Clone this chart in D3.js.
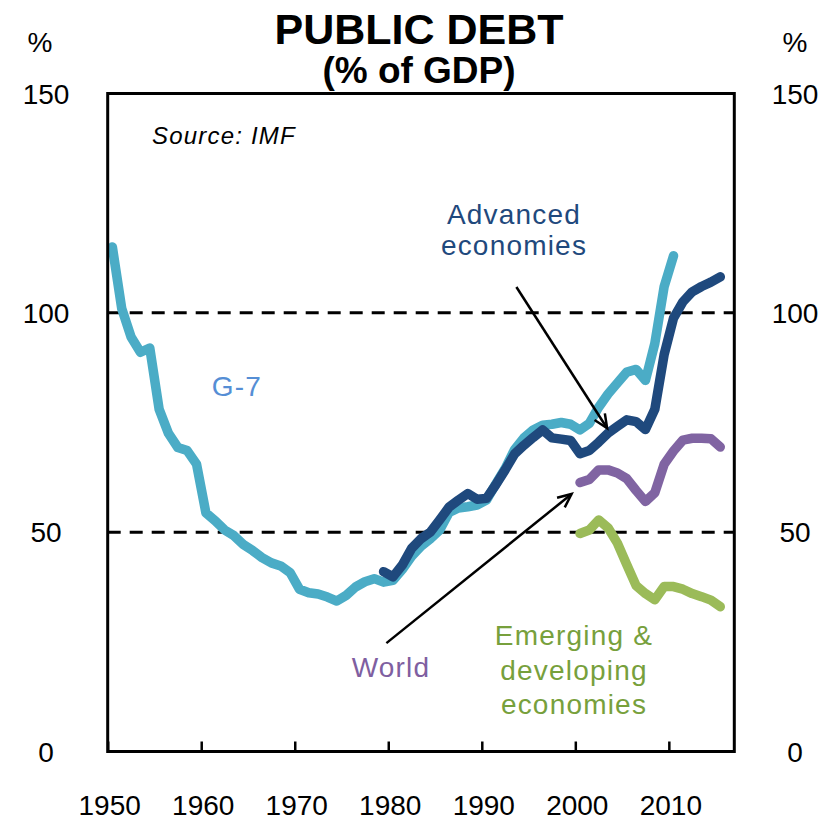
<!DOCTYPE html>
<html>
<head>
<meta charset="utf-8">
<script src="https://cdn.jsdelivr.net/npm/d3@7"></script>
<style>
  html, body { margin: 0; padding: 0; background: #fff; }
  svg { display: block; }
  text { font-family: "Liberation Sans", Arial, sans-serif; }
</style>
</head>
<body>
<div id="chart"></div>
<script>
// ---------------- DATA ----------------
const g7Years = d3.range(1950, 2011);
const g7Values = [
  115, 101, 94.5, 91, 92, 78, 72.5, 69.3, 68.6, 65.5,
  54.4, 52.6, 50.5, 49.2, 47.2, 45.8, 44.2, 43, 42.3, 40.8,
  37, 36.2, 35.9, 35.2, 34.3, 35.6, 37.5, 38.7, 39.4, 38.6,
  39, 41.5, 44.5, 46.8, 48.5, 50.5, 54.5, 55.5, 55.8, 56.2,
  57.3, 61, 64.5, 68.8, 71.5, 73.3, 74.4, 74.6, 75, 74.6,
  73.3, 74.8, 78.5, 81.5, 84, 86.5, 87.1, 84.6, 93, 106,
  113
];
const advYears = d3.range(1979, 2016);
const advValues = [
  41, 39.8, 42.5, 46.3, 48.5, 50, 52.8, 55.7, 57.3, 58.8,
  57.5, 57.7, 60.8, 64.2, 67.8, 69.8, 71.6, 73.3, 71.5, 71.2,
  70.9, 67.9, 68.6, 70.5, 72.6, 74.1, 75.6, 75.2, 73.4, 78,
  90.5, 98.8, 102.5, 104.8, 106, 107, 108.2
];
const worldYears = d3.range(2000, 2016);
const worldValues = [
  61.3, 62, 64.2, 64.2, 63.5, 62.2, 59.5, 57, 59, 65.5,
  68.5, 71, 71.4, 71.4, 71.3, 69.4
];
const emYears = d3.range(2000, 2016);
const emValues = [
  49.7, 50.5, 52.8, 51, 47.5, 42.6, 37.8, 36, 34.6, 37.6,
  37.6, 37, 36, 35.3, 34.5, 33
];
const yTicks = [0, 50, 100, 150];
const xTicks = [1950, 1960, 1970, 1980, 1990, 2000, 2010];
const gridValues = [50, 100];

// ---------------- LAYOUT ----------------
const W = 837, H = 820;
const pLeft = 107.7, pRight = 734.3, pTop = 93.5, pBottom = 751.5;

const x = d3.scaleLinear().domain([1950, 2017]).range([pLeft, pRight]);
const y = d3.scaleLinear().domain([0, 150]).range([pBottom, pTop]);
const xp = yr => x(yr + 0.5); // annual points centred in each year

const svg = d3.select('#chart').append('svg')
  .attr('width', W).attr('height', H);

// Titles
svg.append('text').attr('x', 419).attr('y', 44)
  .attr('text-anchor', 'middle').attr('font-size', 43).attr('font-weight', 'bold')
  .text('PUBLIC DEBT');
svg.append('text').attr('x', 419).attr('y', 83)
  .attr('text-anchor', 'middle').attr('font-size', 37).attr('font-weight', 'bold')
  .text('(% of GDP)');

// Unit labels
[40, 795].forEach(cx => {
  svg.append('text').attr('x', cx).attr('y', 52)
    .attr('text-anchor', 'middle').attr('font-size', 28).text('%');
});

// Y tick labels both sides
const yl = svg.append('g');
yTicks.forEach(v => {
  [46, 795].forEach(cx => {
    yl.append('text').attr('x', cx).attr('y', y(v) + 10)
      .attr('text-anchor', 'middle').attr('font-size', 28).text(v);
  });
});

// Dashed gridlines
gridValues.forEach(v => {
  svg.append('line')
    .attr('x1', pLeft).attr('x2', pRight).attr('y1', y(v)).attr('y2', y(v))
    .attr('stroke', '#000').attr('stroke-width', 3)
    .attr('stroke-dasharray', '13,9');
});

// X axis with inward ticks
const xAxis = d3.axisBottom(x).tickValues(xTicks).tickSize(-10).tickFormat('');
const gx = svg.append('g').attr('transform', `translate(0,${pBottom})`).call(xAxis);
gx.select('.domain').remove();
gx.selectAll('.tick line').attr('stroke', '#000').attr('stroke-width', 2.5);
xTicks.forEach(t => {
  svg.append('text').attr('x', x(t) + 2).attr('y', 815)
    .attr('text-anchor', 'middle').attr('font-size', 28).text(t);
});

// Series lines
const line = d3.line().x(d => xp(d[0])).y(d => y(d[1]));
function drawSeries(years, values, color) {
  svg.append('path')
    .datum(years.map((yr, i) => [yr, values[i]]))
    .attr('d', line)
    .attr('fill', 'none').attr('stroke', color)
    .attr('stroke-width', 9.5)
    .attr('stroke-linejoin', 'round').attr('stroke-linecap', 'round');
}
drawSeries(g7Years, g7Values, '#4bacc6');
drawSeries(advYears, advValues, '#1f497d');
drawSeries(worldYears, worldValues, '#8064a2');
drawSeries(emYears, emValues, '#9bbb59');

// Frame
svg.append('rect').attr('x', pLeft).attr('y', pTop)
  .attr('width', pRight - pLeft).attr('height', pBottom - pTop)
  .attr('fill', 'none').attr('stroke', '#000').attr('stroke-width', 3);

// Arrows (annotation, in data coordinates)
function arrow(x1, y1, x2, y2) {
  const ang = Math.atan2(y2 - y1, x2 - x1);
  const L = 15, a = 0.42;
  svg.append('line').attr('x1', x1).attr('y1', y1).attr('x2', x2).attr('y2', y2)
    .attr('stroke', '#000').attr('stroke-width', 2.5);
  const p1 = [x2 - L * Math.cos(ang - a), y2 - L * Math.sin(ang - a)];
  const p2 = [x2 - L * Math.cos(ang + a), y2 - L * Math.sin(ang + a)];
  svg.append('path').attr('d', `M${p1[0]},${p1[1]}L${x2},${y2}L${p2[0]},${p2[1]}`)
    .attr('fill', 'none').attr('stroke', '#000').attr('stroke-width', 2.5)
    .attr('stroke-linejoin', 'miter');
}
arrow(xp(1993.2), y(105.9), xp(2002.9), y(73.7));
arrow(xp(1979.3), y(24.7), xp(1999.1), y(58.7));

// Labels
function label(tx, ty, lines, color, size, lh) {
  lines.forEach((s, i) => {
    svg.append('text').attr('x', tx).attr('y', ty + i * lh)
      .attr('text-anchor', 'middle').attr('font-size', size)
      .attr('letter-spacing', 1.2)
      .attr('fill', color).text(s);
  });
}
svg.append('text').attr('x', 152).attr('y', 144)
  .attr('font-size', 24).attr('font-style', 'italic').attr('letter-spacing', 1.2)
  .text('Source: IMF');
label(237, 396, ['G-7'], '#558ed5', 28, 0);
label(514, 224, ['Advanced', 'economies'], '#1f497d', 28, 31);
label(391, 677, ['World'], '#7f5fa1', 28, 0);
label(574, 645, ['Emerging &', 'developing', 'economies'], '#77a03c', 28, 34.5);
</script>
</body>
</html>
